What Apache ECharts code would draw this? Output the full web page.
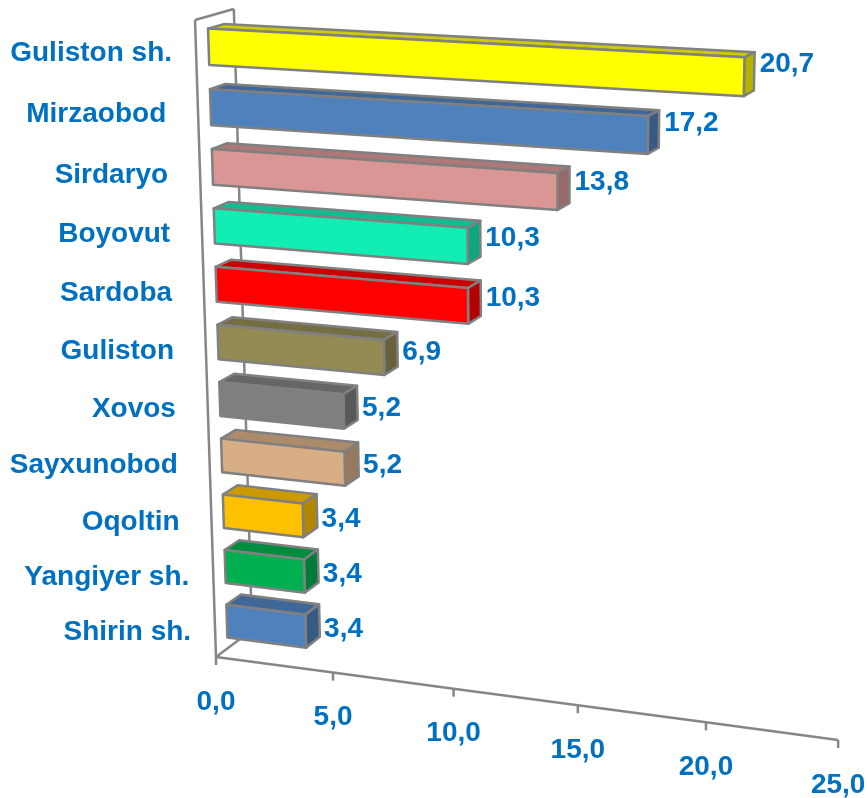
<!DOCTYPE html>
<html>
<head>
<meta charset="utf-8">
<style>
html, body { margin: 0; padding: 0; background: #fff; }
#main { width: 867px; height: 798px; }
</style>
<script src="https://cdn.jsdelivr.net/npm/echarts@6/dist/echarts.min.js"></script>
</head>
<body>
<div id="main"></div>
<script>
// data, top row first
var categories = ['Guliston sh.', 'Mirzaobod ', 'Sirdaryo ', 'Boyovut ', 'Sardoba ', 'Guliston ', 'Xovos ', 'Sayxunobod ', 'Oqoltin ', 'Yangiyer sh.', 'Shirin sh.'];
var values = [20.7, 17.2, 13.8, 10.3, 10.3, 6.9, 5.2, 5.2, 3.4, 3.4, 3.4];
var barColors = ['#FFFF00', '#4F81BD', '#D99694', '#12EDB4', '#FF0000', '#948A54', '#7F7F7F', '#D7AE85', '#FFC000', '#00B050', '#4F81BD'];
var ticks = [0, 5, 10, 15, 20, 25];

var axisMax = 25;
var lineColor = '#868686';
var textColor = '#0070C0';
var font = 'bold 28px "Liberation Sans", Arial, sans-serif';

// depth of the bar box inside the 3d plot, 0 = front wall edge, 1 = back
var depthFront = 0.32;
var depthBack = 0.72;
var barShare = 0.6;

// the flat grid gives v (0..25) and h (0..1), this puts them in perspective
function project(v, h, d) {
	var w = 1 - 0.00293 * v - 0.06 * h + 0.0268 * d;
	return [
		(216 + 22.43 * v - 32.7 * h + 42.75 * d) / w,
		(657 + 1.15 * v - 638.2 * h - 10.1 * d) / w
	];
}

// read value and height back from the axes of the flat grid
function flat(params, api, value, index) {
	var p = api.coord([value, index]);
	var sys = params.coordSys;
	return {
		v: (p[0] - sys.x) / sys.width * axisMax,
		h: 1 - (p[1] - sys.y) / sys.height
	};
}

function darken(color, f) {
	var c = echarts.color.parse(color);
	return 'rgb(' + Math.round(c[0] * f) + ',' + Math.round(c[1] * f) + ',' + Math.round(c[2] * f) + ')';
}

function face(points, fill) {
	return {
		type: 'polygon',
		shape: { points: points },
		style: { fill: fill, stroke: '#808080', lineWidth: 2.5, lineJoin: 'round' }
	};
}

function line(a, b) {
	return {
		type: 'line',
		shape: { x1: a[0], y1: a[1], x2: b[0], y2: b[1] },
		style: { stroke: lineColor, lineWidth: 2.5 }
	};
}

function text(str, x, y, align) {
	return {
		type: 'text',
		style: { text: str, x: x, y: y, align: align, verticalAlign: 'middle', font: font, fill: textColor }
	};
}

// wall and floor lines behind the bars
function renderWall() {
	return {
		type: 'group',
		children: [
			line(project(0, 0, 0), project(0, 1, 0)),
			line(project(0, 1, 0), project(0, 1, 1)),
			line(project(0, 1, 1), project(0, 0, 1)),
			line(project(0, 0, 1), project(0, 0, 0))
		]
	};
}

function renderTick(params, api) {
	var f = flat(params, api, api.value(0), api.value(1));
	var p = project(f.v, 0, 0);
	var children = [
		line(p, [p[0], p[1] + 8]),
		text(ticks[params.dataIndex].toFixed(1).replace('.', ','), p[0], p[1] + 45, 'center')
	];
	if (params.dataIndex > 0) {
		var prev = project(ticks[params.dataIndex - 1], 0, 0);
		children.push(line(prev, p));
	}
	return { type: 'group', children: children };
}

function renderBar(params, api) {
	var i = api.value(1);
	var val = api.value(0);
	var f = flat(params, api, val, i);
	var half = barShare * api.size([0, 1])[1] / params.coordSys.height / 2;
	var v0 = 0;
	var v1 = f.v;
	var top = f.h + half;
	var bot = f.h - half;
	var color = barColors[params.dataIndex];

	var fl = [project(v0, top, depthFront), project(v1, top, depthFront), project(v1, bot, depthFront), project(v0, bot, depthFront)];
	var bk = [project(v0, top, depthBack), project(v1, top, depthBack), project(v1, bot, depthBack)];
	var labelX = bk[1][0] + 5;
	var labelY = project(v1 / 2, f.h, depthFront)[1] + 3;
	var name = categories[params.dataIndex];
	var wall = project(0, f.h, 0);

	return {
		type: 'group',
		children: [
			face([bk[0], bk[1], fl[1], fl[0]], darken(color, 0.8)),
			face([fl[1], bk[1], bk[2], fl[2]], darken(color, 0.7)),
			face(fl, color),
			text(val.toFixed(1).replace('.', ','), labelX, labelY, 'left'),
			text(name, wall[0] - 24, wall[1] + 3, 'right')
		]
	};
}

var chart = echarts.init(document.getElementById('main'), null, { renderer: 'canvas' });
chart.setOption({
	animation: false,
	backgroundColor: '#fff',
	grid: { left: 0, right: 0, top: 0, bottom: 0 },
	xAxis: { type: 'value', min: 0, max: axisMax, interval: 5, show: false },
	yAxis: { type: 'category', data: categories, inverse: true, show: false },
	series: [{
		type: 'custom',
		silent: true,
		clip: false,
		renderItem: renderWall,
		data: [[0, 0]],
		encode: { x: 0, y: 1 }
	}, {
		type: 'custom',
		silent: true,
		clip: false,
		renderItem: renderTick,
		data: ticks.map(function(t) { return [t, 0]; }),
		encode: { x: 0, y: 1 }
	}, {
		type: 'custom',
		silent: true,
		clip: false,
		renderItem: renderBar,
		data: values.map(function(v, i) { return [v, i]; }),
		encode: { x: 0, y: 1 }
	}]
});
</script>
</body>
</html>
